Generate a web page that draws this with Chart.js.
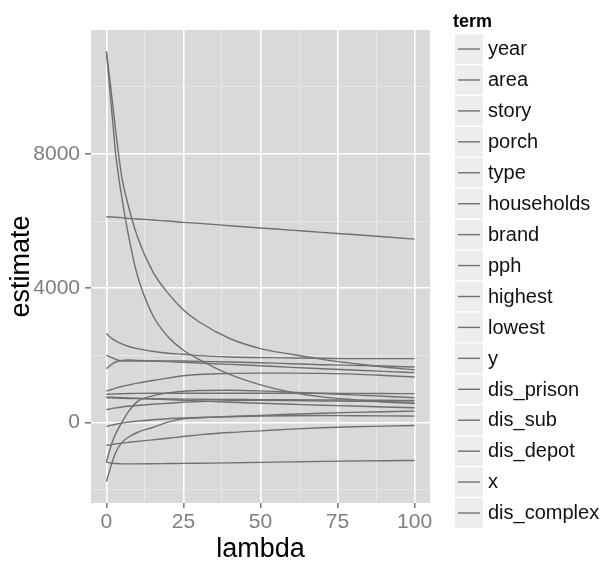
<!DOCTYPE html>
<html>
<head>
<meta charset="utf-8">
<script src="https://cdn.jsdelivr.net/npm/chart.js@4.4.1/dist/chart.umd.min.js"></script>
<style>
  html, body { margin: 0; padding: 0; background: #fff; }
</style>
</head>
<body>
<canvas id="ridgeChart" width="607" height="566"></canvas>
<script>
// ridge coefficient paths
const lambdas = [0, 1, 2, 3, 5, 7, 10, 15, 20, 25, 30, 40, 50, 60, 70, 80, 90, 100];

const terms = ["year", "area", "story", "porch", "type", "households", "brand", "pph",
  "highest", "lowest", "y", "dis_prison", "dis_sub", "dis_depot", "x", "dis_complex"];

const year = [11050, 10000, 9000, 8000, 6700, 5650, 4400, 3200, 2550, 2150, 1880, 1430, 1120, 900, 760, 680, 610, 560];
const area = [11050, 10300, 9500, 8700, 7300, 6500, 5550, 4500, 3850, 3350, 3000, 2500, 2200, 2030, 1880, 1760, 1650, 1570];
const story = [6130, 6120, 6120, 6110, 6100, 6080, 6060, 6030, 6000, 5960, 5930, 5860, 5790, 5730, 5660, 5600, 5530, 5460];
const porch = [2650, 2560, 2490, 2430, 2340, 2270, 2200, 2120, 2060, 2030, 1990, 1950, 1930, 1920, 1910, 1900, 1900, 1900];
const type = [2000, 1960, 1920, 1880, 1830, 1830, 1830, 1830, 1830, 1830, 1820, 1800, 1780, 1750, 1720, 1700, 1680, 1650];
const households = [1600, 1680, 1750, 1800, 1850, 1860, 1850, 1830, 1810, 1790, 1770, 1730, 1690, 1640, 1600, 1560, 1520, 1484];
const brand = [934, 960, 990, 1020, 1070, 1110, 1170, 1250, 1320, 1390, 1430, 1460, 1470, 1470, 1460, 1440, 1400, 1352];
const pph = [836, 840, 845, 850, 855, 860, 865, 870, 870, 870, 870, 870, 870, 870, 870, 865, 860, 857];
const highest = [737, 735, 730, 725, 720, 715, 710, 705, 700, 695, 690, 685, 680, 675, 670, 665, 660, 657];
const lowest = [760, 755, 750, 745, 740, 730, 720, 700, 680, 660, 640, 600, 570, 540, 510, 490, 460, 439];
const yCoef = [379, 400, 420, 435, 460, 480, 505, 540, 570, 600, 620, 650, 657, 650, 640, 630, 620, 606];
const disPrison = [-119, -95, -75, -55, -20, 10, 40, 80, 110, 130, 145, 175, 210, 245, 275, 300, 320, 337];
const disSub = [-1761, -1450, -1150, -900, -600, -450, -300, -150, 10, 105, 140, 170, 190, 200, 205, 200, 195, 188];
const disDepot = [-687, -670, -655, -640, -615, -595, -565, -520, -470, -420, -370, -300, -250, -200, -160, -130, -110, -90];
const xCoef = [-1184, -850, -560, -340, 0, 300, 620, 790, 880, 930, 950, 960, 940, 900, 860, 820, 780, 737];
const disComplex = [-1184, -1200, -1215, -1225, -1234, -1234, -1234, -1230, -1225, -1220, -1215, -1205, -1190, -1175, -1160, -1150, -1140, -1134];

const series = [year, area, story, porch, type, households, brand, pph,
  highest, lowest, yCoef, disPrison, disSub, disDepot, xCoef, disComplex];

const xGrid = [0, 12.5, 25, 37.5, 50, 62.5, 75, 87.5, 100];
const yGrid = [-2000, 0, 2000, 4000, 6000, 8000, 10000];

const lineGray = "#707070";
const tickGray = "#7f7f7f";

Chart.defaults.font.family = '"Liberation Sans", Arial, sans-serif';

// grey panel behind the plot
const panelBg = {
  id: "panelBg",
  beforeDraw(chart) {
    const { ctx, chartArea: a } = chart;
    ctx.save();
    ctx.fillStyle = "#d9d9d9";
    ctx.fillRect(a.left, a.top, a.right - a.left, a.bottom - a.top);
    ctx.restore();
  }
};

// ggplot style legend on the right
const termLegend = {
  id: "termLegend",
  afterDraw(chart) {
    const ctx = chart.ctx;
    ctx.save();
    ctx.fillStyle = "#000";
    ctx.font = 'bold 18px "Liberation Sans", Arial, sans-serif';
    ctx.textBaseline = "alphabetic";
    ctx.fillText("term", 453, 27);
    ctx.font = '20px "Liberation Sans", Arial, sans-serif';
    ctx.textBaseline = "middle";
    chart.data.datasets.forEach((ds, i) => {
      const top = 34.3 + i * 30.93;
      ctx.fillStyle = "#ededed";
      ctx.fillRect(455, top, 28, 29.5);
      ctx.strokeStyle = ds.borderColor;
      ctx.lineWidth = 1.4;
      ctx.beginPath();
      ctx.moveTo(458, top + 14.75);
      ctx.lineTo(480, top + 14.75);
      ctx.stroke();
      ctx.fillStyle = "#111";
      ctx.fillText(ds.label, 488, top + 15.5);
    });
    ctx.restore();
  }
};

new Chart(document.getElementById("ridgeChart"), {
  type: "line",
  data: {
    datasets: terms.map((t, i) => ({
      label: t,
      data: lambdas.map((l, j) => ({ x: l, y: series[i][j] })),
      borderColor: lineGray,
      borderWidth: 1.4,
      pointRadius: 0,
      fill: false,
      cubicInterpolationMode: "monotone"
    }))
  },
  options: {
    responsive: false,
    animation: false,
    devicePixelRatio: 1,
    layout: { padding: { top: 30, right: 177, bottom: 0, left: 0 } },
    plugins: {
      legend: { display: false },
      tooltip: { enabled: false }
    },
    scales: {
      x: {
        type: "linear",
        min: -5,
        max: 105,
        afterBuildTicks: axis => { axis.ticks = xGrid.map(v => ({ value: v })); },
        afterFit: scale => { scale.height = 63; },
        border: { display: false },
        grid: {
          color: c => c.tick.value % 25 === 0 ? "#ffffff" : "#ebebeb",
          lineWidth: c => c.tick.value % 25 === 0 ? 1.6 : 0.8,
          tickColor: c => c.tick.value % 25 === 0 ? tickGray : "rgba(0,0,0,0)",
          tickLength: 5
        },
        ticks: {
          autoSkip: false,
          maxRotation: 0,
          padding: 2,
          color: tickGray,
          font: { size: 21 },
          callback: v => v % 25 === 0 ? v : ""
        },
        title: {
          display: true,
          text: "lambda",
          color: "#000",
          font: { size: 27 },
          padding: 0
        }
      },
      y: {
        type: "linear",
        min: -2400,
        max: 11690,
        afterBuildTicks: axis => { axis.ticks = yGrid.map(v => ({ value: v })); },
        afterFit: scale => { scale.width = 91; },
        border: { display: false },
        grid: {
          color: c => c.tick.value % 4000 === 0 ? "#ffffff" : "#ebebeb",
          lineWidth: c => c.tick.value % 4000 === 0 ? 1.6 : 0.8,
          tickColor: c => c.tick.value % 4000 === 0 ? tickGray : "rgba(0,0,0,0)",
          tickLength: 6
        },
        ticks: {
          autoSkip: false,
          padding: 5,
          color: tickGray,
          font: { size: 21 },
          callback: v => v % 4000 === 0 ? v : ""
        },
        title: {
          display: true,
          text: "estimate",
          color: "#000",
          font: { size: 27 },
          padding: { top: 5, bottom: 0 }
        }
      }
    }
  },
  plugins: [panelBg, termLegend]
});
</script>
</body>
</html>
